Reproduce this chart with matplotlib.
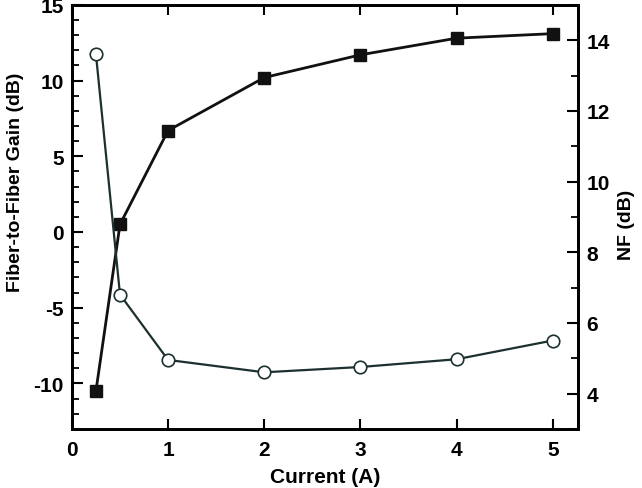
import matplotlib.pyplot as plt
from matplotlib.ticker import MultipleLocator

# =====================
# Data
# =====================

current = [0.25, 0.5, 1, 2, 3, 4, 5]
gain_db = [-10.5, 0.5, 6.7, 10.2, 11.7, 12.8, 13.1]
nf_db = [13.6, 6.8, 4.95, 4.6, 4.75, 4.97, 5.5]

plt.rcParams["font.family"] = ["Liberation Sans", "DejaVu Sans"]
plt.rcParams["font.weight"] = "bold"
plt.rcParams["axes.unicode_minus"] = False

# =====================
# Plot
# =====================

fig = plt.figure(figsize=(6.42, 4.89), dpi=100)
ax = fig.add_axes([0.112, 0.121, 0.788, 0.867])
ax2 = ax.twinx()

ax.plot(current, gain_db, color="#111111", lw=2,
        marker="s", ms=8, mfc="#111111", mec="#111111", zorder=3)
ax2.plot(current, nf_db, color="#1c3030", lw=1.6,
         marker="o", ms=9, mfc="white", mec="#1c3030", mew=1.2, zorder=3)

ax.set_xlim(0, 5.26)
ax.set_ylim(-13, 15)
ax2.set_ylim(3, 15)

ax.xaxis.set_major_locator(MultipleLocator(1))
ax.yaxis.set_major_locator(MultipleLocator(5))
ax.yaxis.set_minor_locator(MultipleLocator(1))
ax2.yaxis.set_minor_locator(MultipleLocator(1))
ax2.set_yticks([4, 6, 8, 10, 12, 14])

ax.tick_params(axis="x", which="major", direction="in", length=7, width=1.5,
               top=True, labelsize=15, pad=8)
ax.tick_params(axis="y", which="major", direction="in", length=8, width=1.5,
               labelsize=15, pad=6)
ax.tick_params(axis="y", which="minor", direction="in", length=5, width=1.3)
ax2.tick_params(axis="y", which="major", direction="in", length=8, width=1.5,
                labelsize=15, pad=6)
ax2.tick_params(axis="y", which="minor", direction="in", length=5, width=1.3)

for a in (ax, ax2):
    for s in a.spines.values():
        s.set_linewidth(2)

ax.set_xlabel("Current (A)", fontsize=15, fontweight="bold", labelpad=6)
ax.set_ylabel("Fiber-to-Fiber Gain (dB)", fontsize=14, fontweight="bold")
ax2.set_ylabel("NF (dB)", fontsize=14, fontweight="bold")
ax.yaxis.set_label_coords(-0.095, 0.585)
ax2.yaxis.set_label_coords(1.08, 0.483)

plt.savefig("out.png", dpi=100)
